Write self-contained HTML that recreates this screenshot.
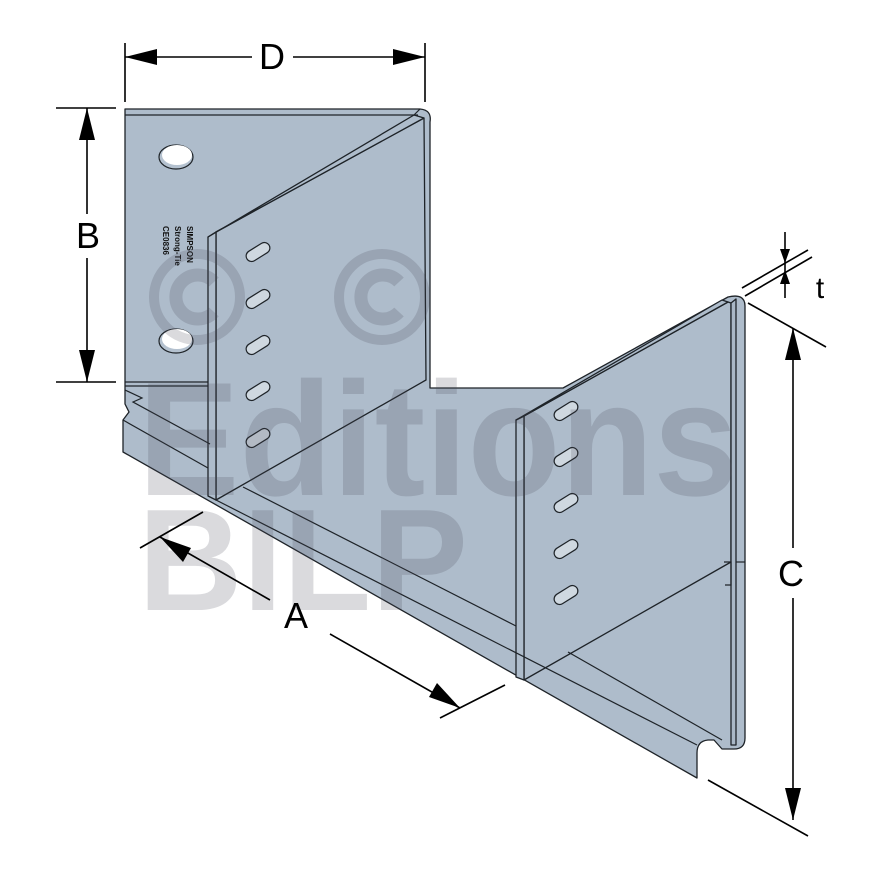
<!DOCTYPE html>
<html><head><meta charset="utf-8"><style>html,body{margin:0;padding:0;background:#fff}svg{display:block}</style></head>
<body>
<svg width="880" height="880" viewBox="0 0 880 880" xmlns="http://www.w3.org/2000/svg">
<g stroke="#1e2328" stroke-width="1.3" stroke-linejoin="round" fill="#aebccb">
<!-- silhouette -->
<path d="M125,109 L420,109 Q432,110 430,122 L430,388 L563,388 L728,297 Q745,293 745,306 L745,738 Q745,749 734,749 L722,749 L714,740 L708,740 Q697,741 697,753 L697,778 L123,452 L123,420 L129,412 L125,404 Z"/>
<!-- left fin face -->
<path d="M216,232 L424,118 L426,380 L216,500 Z"/>
<path d="M208,237 L216,232 L216,500 L208,496 Z"/>
<path d="M208,237 L414,115 L424,118 L216,232 Z"/>
<!-- right fin -->
<path d="M524,416 L728,302 L731,303 L731,562 L524,680 Z"/>
<path d="M516,420 L524,416 L524,680 L516,677 Z"/>
<path d="M516,420 L722,300 L728,302 L524,416 Z"/>
<path d="M731,303 L736,299 L736,745 L731,745 Z" fill="#a9b7c6"/>
</g>
<g stroke="#1e2328" stroke-width="1.2" fill="none">
<line x1="125" y1="115" x2="418" y2="115"/>
<line x1="414" y1="115" x2="420" y2="109"/>
<line x1="125" y1="382" x2="208" y2="382"/>
<line x1="125" y1="386" x2="208" y2="386"/>
<polyline points="125,390 142,398 133,402 210,444"/>
<line x1="123" y1="420" x2="208" y2="468"/>
<line x1="216" y1="500" x2="697" y2="745"/>
<line x1="243" y1="487" x2="516" y2="626"/>
<line x1="568" y1="652" x2="722" y2="740"/>
<polyline points="724,562 731,562 731,585 725,585"/>
<line x1="736" y1="562" x2="745" y2="562"/>
</g>
<!-- holes -->
<g stroke="#1e2328" stroke-width="1.2">
<ellipse cx="176" cy="157" rx="17" ry="12" fill="#b4c1cf"/>
<ellipse cx="177" cy="155" rx="15" ry="10" fill="#fff" stroke="none"/>
<ellipse cx="176" cy="341" rx="17" ry="12" fill="#b4c1cf"/>
<ellipse cx="177" cy="339" rx="15" ry="10" fill="#fff" stroke="none"/>
</g>
<g stroke="#1e2328" stroke-width="1.2" fill="#cfd8e0">
<g transform="translate(258,252) rotate(-32)"><rect x="-13" y="-5.5" width="26" height="11" rx="5.5"/></g>
<g transform="translate(258,299) rotate(-32)"><rect x="-13" y="-5.5" width="26" height="11" rx="5.5"/></g>
<g transform="translate(258,345) rotate(-32)"><rect x="-13" y="-5.5" width="26" height="11" rx="5.5"/></g>
<g transform="translate(258,391) rotate(-32)"><rect x="-13" y="-5.5" width="26" height="11" rx="5.5"/></g>
<g transform="translate(258,438) rotate(-32)"><rect x="-13" y="-5.5" width="26" height="11" rx="5.5"/></g>
<g transform="translate(566,411) rotate(-32)"><rect x="-13" y="-5.5" width="26" height="11" rx="5.5"/></g>
<g transform="translate(566,457) rotate(-32)"><rect x="-13" y="-5.5" width="26" height="11" rx="5.5"/></g>
<g transform="translate(566,503) rotate(-32)"><rect x="-13" y="-5.5" width="26" height="11" rx="5.5"/></g>
<g transform="translate(566,549) rotate(-32)"><rect x="-13" y="-5.5" width="26" height="11" rx="5.5"/></g>
<g transform="translate(566,595) rotate(-32)"><rect x="-13" y="-5.5" width="26" height="11" rx="5.5"/></g>
</g>
<g font-family="Liberation Sans, sans-serif" font-size="8" font-weight="bold" fill="#111">
<text transform="translate(187,226) rotate(90)">SIMPSON</text>
<text transform="translate(175,226) rotate(90)">Strong-Tie</text>
<text transform="translate(163,226) rotate(90)">CE0836</text>
</g>
<!-- watermark -->
<g fill="none" stroke="rgba(70,70,85,0.2)">
<circle cx="197" cy="297" r="43" stroke-width="10"/>
<path d="M214,282 A22,22 0 1 0 214,312" stroke-width="13"/>
<circle cx="382" cy="297" r="43" stroke-width="10"/>
<path d="M399,282 A22,22 0 1 0 399,312" stroke-width="13"/>
</g>
<g font-family="Liberation Sans, sans-serif" font-weight="bold" fill="rgba(70,70,85,0.2)">
<text x="138" y="495" font-size="162" textLength="600" lengthAdjust="spacingAndGlyphs">Editions</text>
<text x="138" y="610" font-size="145" textLength="330" lengthAdjust="spacingAndGlyphs">BILP</text>
</g>
<!-- dimensions -->
<g stroke="#000" stroke-width="1.6" fill="none">
<line x1="125" y1="43" x2="125" y2="102"/>
<line x1="425" y1="43" x2="425" y2="102"/>
<line x1="125" y1="57" x2="252" y2="57"/>
<line x1="293" y1="57" x2="425" y2="57"/>
<line x1="56" y1="108" x2="116" y2="108"/>
<line x1="56" y1="382" x2="116" y2="382"/>
<line x1="87" y1="108" x2="87" y2="214"/>
<line x1="87" y1="258" x2="87" y2="382"/>
<line x1="748" y1="303" x2="826" y2="347"/>
<line x1="708" y1="780" x2="808" y2="836"/>
<line x1="793" y1="328" x2="793" y2="548"/>
<line x1="793" y1="598" x2="793" y2="820"/>
<line x1="140" y1="548" x2="203" y2="512"/>
<line x1="440" y1="718" x2="505" y2="685"/>
<line x1="160" y1="537" x2="270" y2="600"/>
<line x1="330" y1="634" x2="460" y2="708"/>
<line x1="742" y1="288" x2="808" y2="250"/>
<line x1="745" y1="296" x2="812" y2="257"/>
<line x1="785" y1="232" x2="785" y2="298"/>
</g>
<g fill="#000">
<polygon points="125,57 157,49 157,65"/>
<polygon points="425,57 393,49 393,65"/>
<polygon points="87,108 79,140 95,140"/>
<polygon points="87,382 79,350 95,350"/>
<polygon points="793,328 785,360 801,360"/>
<polygon points="793,820 785,788 801,788"/>
<polygon points="160,537 183,562 191,548"/>
<polygon points="460,708 437,683 429,697"/>
<polygon points="785,263 780,249 790,249"/>
<polygon points="785,270 780,284 790,284"/>
</g>
<g font-family="Liberation Sans, sans-serif" font-size="36" fill="#000" text-anchor="middle">
<text x="272" y="69">D</text>
<text x="88" y="248">B</text>
<text x="791" y="586">C</text>
<text x="296" y="628">A</text>
<text x="820" y="298" font-size="30">t</text>
</g>
</svg>
</body></html>
